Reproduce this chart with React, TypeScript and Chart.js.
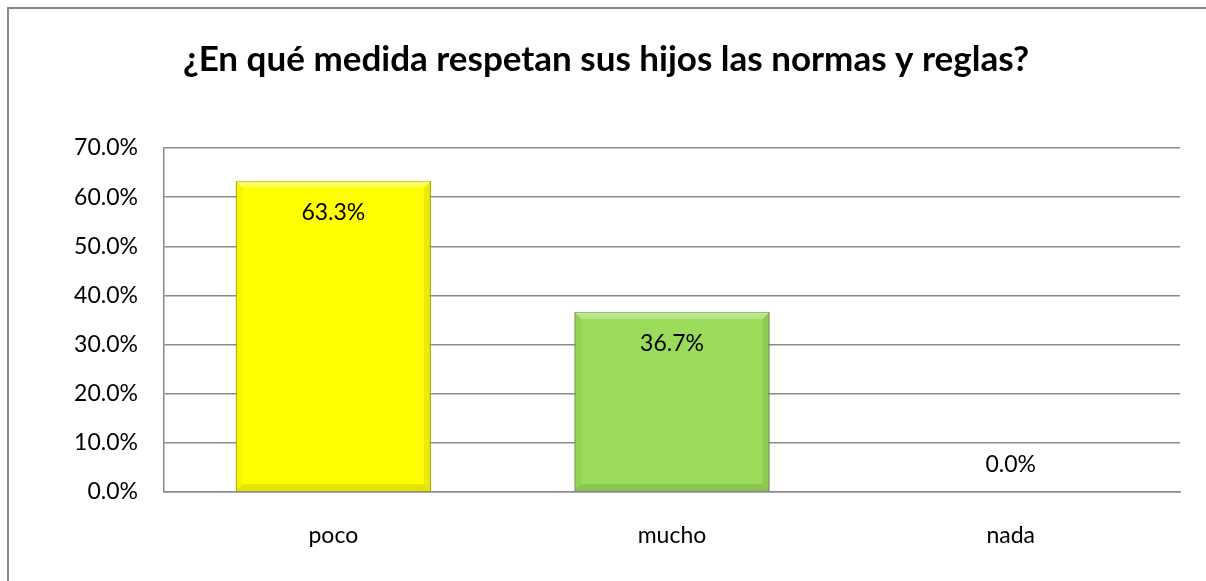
import React, { useEffect, useRef } from "react";
import { Chart, registerables } from "chart.js";

Chart.register(...registerables);

const TITLE = "¿En qué medida respetan sus hijos las normas y reglas?";
const categories = ["poco", "mucho", "nada"];
const values = [0.633, 0.367, 0.0];
const barColors = ["#FFFF00", "#9BDB5A", "#9BDB5A"];
const barBorders = ["#BDBD00", "#6E9E3C", "#6E9E3C"];
const yTicks = [0, 0.1, 0.2, 0.3, 0.4, 0.5, 0.6, 0.7];

const FONT = "Lato, 'Open Sans', sans-serif";

const frameAndLabels = {
  id: "frameAndLabels",
  beforeDraw(chart: any) {
    const ctx = chart.ctx;
    ctx.save();
    ctx.fillStyle = "#ffffff";
    ctx.fillRect(0, 0, chart.width, chart.height);
    ctx.strokeStyle = "#8a8a8a";
    ctx.lineWidth = 2;
    ctx.beginPath();
    ctx.moveTo(8, chart.height + 2);
    ctx.lineTo(8, 8);
    ctx.lineTo(chart.width + 2, 8);
    ctx.stroke();
    ctx.restore();
  },
  afterDatasetsDraw(chart: any) {
    const ctx = chart.ctx;
    const meta = chart.getDatasetMeta(0);
    ctx.save();
    meta.data.forEach((bar: any, i: number) => {
      if (values[i] <= 0) return;
      const half = bar.width / 2;
      const l = bar.x - half, r = bar.x + half, t = bar.y, b = bar.base;
      const g = 7;
      ctx.fillStyle = "rgba(255,255,255,0.3)";
      ctx.beginPath();
      ctx.moveTo(l, t); ctx.lineTo(r, t); ctx.lineTo(r - g, t + g); ctx.lineTo(l + g, t + g);
      ctx.closePath(); ctx.fill();
      ctx.fillStyle = "rgba(0,0,0,0.08)";
      ctx.beginPath();
      ctx.moveTo(r, t); ctx.lineTo(r, b); ctx.lineTo(r - g, b - g); ctx.lineTo(r - g, t + g);
      ctx.closePath(); ctx.fill();
      ctx.fillStyle = "rgba(0,0,0,0.11)";
      ctx.beginPath();
      ctx.moveTo(l, b); ctx.lineTo(r, b); ctx.lineTo(r - g, b - g); ctx.lineTo(l + g, b - g);
      ctx.closePath(); ctx.fill();
      ctx.fillStyle = "rgba(0,0,0,0.04)";
      ctx.beginPath();
      ctx.moveTo(l, t); ctx.lineTo(l + g, t + g); ctx.lineTo(l + g, b - g); ctx.lineTo(l, b);
      ctx.closePath(); ctx.fill();
    });
    ctx.font = `23px ${FONT}`;
    ctx.fillStyle = "#000000";
    ctx.textAlign = "center";
    ctx.textBaseline = "middle";
    meta.data.forEach((bar: any, i: number) => {
      const v = values[i];
      const txt = (v * 100).toFixed(1) + "%";
      const y = v > 0 ? bar.y + 32 : bar.base - 27;
      ctx.fillText(txt, bar.x, y);
    });
    ctx.restore();
  },
};

export default function App() {
  const ref = useRef<HTMLCanvasElement | null>(null);
  useEffect(() => {
    document.body.style.margin = "0";
    const chart = new Chart(ref.current as HTMLCanvasElement, {
      type: "bar",
      data: {
        labels: categories,
        datasets: [
          {
            data: values,
            backgroundColor: barColors,
            borderColor: barBorders,
            borderWidth: 1.5,
            barPercentage: 0.577,
            categoryPercentage: 1,
          },
        ],
      },
      options: {
        animation: false,
        responsive: false,
        maintainAspectRatio: false,
        layout: { padding: { top: 0, left: 32, right: 26, bottom: 0 } },
        plugins: {
          legend: { display: false },
          tooltip: { enabled: false },
          title: {
            display: true,
            text: TITLE,
            color: "#000000",
            font: { family: FONT, size: 35, weight: "bold", lineHeight: 1.2 },
            padding: { top: 39, bottom: 67 },
          },
        },
        scales: {
          x: {
            grid: { display: false, drawTicks: false },
            border: { display: true, color: "#8a8a8a", width: 1.5 },
            ticks: {
              color: "#000000",
              font: { family: FONT, size: 23 },
              padding: 30,
            },
            afterFit(scale: any) {
              scale.height = 581 - 492;
            },
          },
          y: {
            min: 0,
            max: 0.7,
            afterBuildTicks(scale: any) {
              scale.ticks = yTicks.map((v) => ({ value: v }));
            },
            grid: { color: "#8a8a8a", lineWidth: 1.5, drawTicks: false },
            border: { display: true, color: "#8a8a8a", width: 1.5 },
            ticks: {
              color: "#000000",
              font: { family: FONT, size: 23 },
              padding: 26,
              callback: (v: any) => (Number(v) * 100).toFixed(1) + "%",
            },
            afterFit(scale: any) {
              scale.width = 132;
            },
          },
        },
      },
      plugins: [frameAndLabels],
    });
    return () => chart.destroy();
  }, []);
  return (
    <div style={{ width: 1206, height: 581 }}>
      <canvas ref={ref} width={1206} height={581} style={{ display: "block" }} />
    </div>
  );
}
